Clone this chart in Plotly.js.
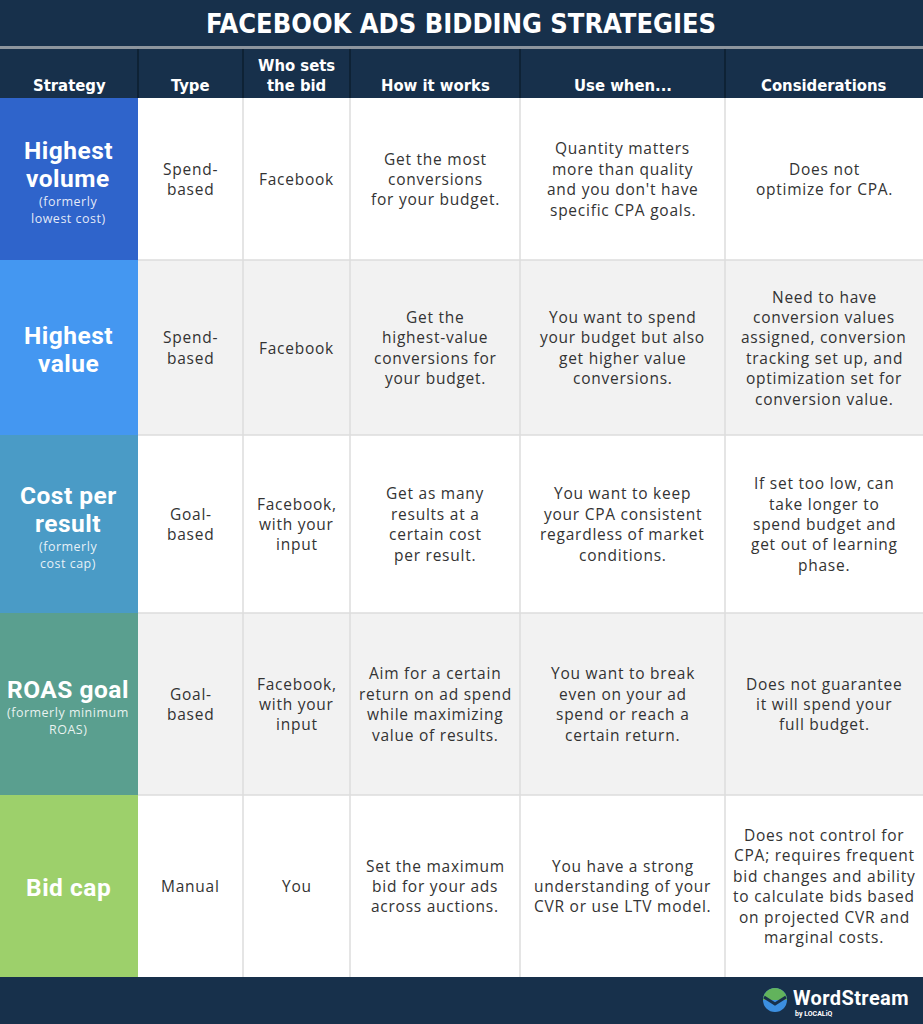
<!DOCTYPE html>
<html>
<head>
<meta charset="utf-8">
<script src="https://cdn.plot.ly/plotly-3.0.1.min.js"></script>
<style>html,body{margin:0;padding:0;background:#fff;}#chart{width:923px;height:1024px;}</style>
</head>
<body>
<div id="chart"></div>
<script>
// ---- Data ----
const title = 'FACEBOOK ADS BIDDING STRATEGIES';
const headers = ['Strategy', 'Type', 'Who sets<br>the bid', 'How it works', 'Use when...', 'Considerations'];
const strategies = ['Highest<br>volume', 'Highest<br>value', 'Cost per<br>result', 'ROAS goal', 'Bid cap'];
const strategyNotes = ['(formerly<br>lowest cost)', '', '(formerly<br>cost cap)', '(formerly minimum<br>ROAS)', ''];
const types = ['Spend-<br>based', 'Spend-<br>based', 'Goal-<br>based', 'Goal-<br>based', 'Manual'];
const whoSets = ['Facebook', 'Facebook', 'Facebook,<br>with your<br>input', 'Facebook,<br>with your<br>input', 'You'];
const howItWorks = [
  'Get the most<br>conversions<br>for your budget.',
  'Get the<br>highest-value<br>conversions for<br>your budget.',
  'Get as many<br>results at a<br>certain cost<br>per result.',
  'Aim for a certain<br>return on ad spend<br>while maximizing<br>value of results.',
  'Set the maximum<br>bid for your ads<br>across auctions.'
];
const useWhen = [
  'Quantity matters<br>more than quality<br>and you don\'t have<br>specific CPA goals.',
  'You want to spend<br>your budget but also<br>get higher value<br>conversions.',
  'You want to keep<br>your CPA consistent<br>regardless of market<br>conditions.',
  'You want to break<br>even on your ad<br>spend or reach a<br>certain return.',
  'You have a strong<br>understanding of your<br>CVR or use LTV model.'
];
const considerations = [
  'Does not<br>optimize for CPA.',
  'Need to have<br>conversion values<br>assigned, conversion<br>tracking set up, and<br>optimization set for<br>conversion value.',
  'If set too low, can<br>take longer to<br>spend budget and<br>get out of learning<br>phase.',
  'Does not guarantee<br>it will spend your<br>full budget.',
  'Does not control for<br>CPA; requires frequent<br>bid changes and ability<br>to calculate bids based<br>on projected CVR and<br>marginal costs.'
];
const brand = 'WordStream';
const brandSub = 'by LOCALiQ';

// ---- Layout / style constants ----
const W = 923, H = 1024;
const colEdges = [0, 138, 243, 350, 520, 725, 923];
const rowEdges = [98, 260, 435, 613, 795, 977];
const titleBottom = 46, sepBottom = 49, headerBottom = 98;
const navy = '#17304b';
const strategyColors = ['#2f64cb', '#4497f1', '#4a9bc6', '#5a9f8f', '#9dd06b'];
const rowFills = ['#ffffff', '#f2f2f2', '#ffffff', '#f2f2f2', '#ffffff'];
const gridColor = '#dddddd';
const textColor = '#333333';
const bodyFont = 'Open Sans, Noto Sans, sans-serif';
const nameFont = 'Roboto, Open Sans, sans-serif';
const condFont = 'DejaVu Sans Condensed, Liberation Sans Narrow, Open Sans, sans-serif';
const bodySize = 15.5, bodyLH = 20.4, bodyTrack = 0.75;
const nameSize = 24.5, nameLH = 28, nameTrack = 0.5;
const noteSize = 12.5, noteLH = 16.5, noteTrack = 0.5;
const headSize = 16.5, headLH = 20;

const shapes = [];
const annotations = [];

function rect(x0, y0, x1, y1, fill, layer) {
  shapes.push({type: 'rect', xref: 'x', yref: 'y', x0, y0, x1, y1, fillcolor: fill, line: {width: 0}, layer: layer || 'below'});
}
function line(x0, y0, x1, y1, color, width) {
  shapes.push({type: 'line', xref: 'x', yref: 'y', x0, y0, x1, y1, line: {color, width}, layer: 'below'});
}
function text(x, y, t, size, color, opts) {
  opts = opts || {};
  const content = opts.track ? `<span style="letter-spacing:${opts.track}px">${t}</span>` : t;
  annotations.push(Object.assign({
    xref: 'x', yref: 'y', x, y, text: content, showarrow: false,
    xanchor: 'center', yanchor: 'middle', align: 'center', borderpad: 0,
    font: {family: opts.family || bodyFont, size, color, weight: opts.weight || 'normal'}
  }, opts.extra || {}));
}
function lines(xc, yc, t, size, lh, color, opts) {
  const ls = t.split('<br>');
  const n = ls.length;
  ls.forEach((ln, i) => text(xc, yc + (i - (n - 1) / 2) * lh, ln, size, color, opts));
}

// Title + header bars
rect(0, 0, W, titleBottom, navy);
rect(0, titleBottom, W, sepBottom, '#8d959e');
rect(0, sepBottom, W, headerBottom, navy);
for (let c = 1; c < colEdges.length - 1; c++) line(colEdges[c], sepBottom, colEdges[c], headerBottom, '#0e2235', 2);
text(W / 2 - 1, 23, title, 27, '#ffffff', {family: condFont, weight: 'bold'});

// Header labels (bottom aligned: last line centred at y=85)
headers.forEach((h, c) => {
  const xc = (colEdges[c] + colEdges[c + 1]) / 2;
  const n = h.split('<br>').length;
  lines(xc, 85 - (n - 1) * headLH / 2, h, headSize, headLH, '#ffffff', {family: condFont, weight: 'bold'});
});

// Rows
const cols = [types, whoSets, howItWorks, useWhen, considerations];
for (let r = 0; r < strategies.length; r++) {
  const y0 = rowEdges[r], y1 = rowEdges[r + 1], yc = (y0 + y1) / 2;
  rect(colEdges[1], y0, W, y1, rowFills[r]);
  rect(colEdges[0], y0, colEdges[1], y1, strategyColors[r]);
  // strategy name + note
  const nName = strategies[r].split('<br>').length;
  const nNote = strategyNotes[r] ? strategyNotes[r].split('<br>').length : 0;
  const total = nName * nameLH + nNote * noteLH;
  const top = yc - total / 2 + 1.5;
  const xs = (colEdges[0] + colEdges[1]) / 2 - 1;
  lines(xs, top + nName * nameLH / 2, strategies[r], nameSize, nameLH, '#ffffff', {family: nameFont, weight: 'bold', track: nameTrack});
  if (nNote) lines(xs, top + nName * nameLH + nNote * noteLH / 2 + 1.5, strategyNotes[r], noteSize, noteLH,
    'rgba(255,255,255,0.88)', {track: noteTrack});
  // body cells
  cols.forEach((arr, k) => {
    const c = k + 1;
    const xc = (colEdges[c] + colEdges[c + 1]) / 2;
    lines(xc, yc, arr[r], bodySize, bodyLH, textColor, {track: bodyTrack});
  });
}
// Grid lines
for (let c = 2; c < colEdges.length - 1; c++) line(colEdges[c], rowEdges[0], colEdges[c], rowEdges[rowEdges.length - 1], gridColor, 1.5);
for (let r = 1; r < rowEdges.length - 1; r++) line(colEdges[1], rowEdges[r], W, rowEdges[r], gridColor, 1.5);

// Footer
rect(0, rowEdges[rowEdges.length - 1], W, H, navy);
// logo mark
const lx = 775, ly = 1000, lr = 12, k = 0.5523 * lr;
shapes.push({type: 'circle', xref: 'x', yref: 'y', x0: lx - lr, y0: ly - lr, x1: lx + lr, y1: ly + lr, fillcolor: '#3c8fe0', line: {width: 0}, layer: 'above'});
shapes.push({type: 'path', xref: 'x', yref: 'y', layer: 'above', fillcolor: '#62b35c', line: {width: 0},
  path: `M ${lx - lr},${ly} C ${lx - lr},${ly - k} ${lx - k},${ly - lr} ${lx},${ly - lr} C ${lx + k},${ly - lr} ${lx + lr},${ly - k} ${lx + lr},${ly} Z`});
shapes.push({type: 'path', xref: 'x', yref: 'y', layer: 'above', line: {color: navy, width: 3},
  path: `M ${lx - lr + 1},${ly - 3} L ${lx},${ly + 4} L ${lx + lr - 1},${ly - 3}`});
text(792, 997.5, brand, 20, '#ffffff', {family: nameFont, weight: 'bold', track: 0.4, extra: {xanchor: 'left'}});
text(794, 1013.5, brandSub, 7, '#ffffff', {family: nameFont, weight: 'bold', extra: {xanchor: 'left'}});

const layout = {
  width: W, height: H,
  margin: {l: 0, r: 0, t: 0, b: 0, pad: 0},
  paper_bgcolor: '#ffffff', plot_bgcolor: '#ffffff',
  xaxis: {range: [0, W], visible: false, fixedrange: true},
  yaxis: {range: [H, 0], visible: false, fixedrange: true},
  showlegend: false,
  shapes, annotations
};
Plotly.newPlot('chart', [], layout, {displayModeBar: false, staticPlot: true});
</script>
</body>
</html>
